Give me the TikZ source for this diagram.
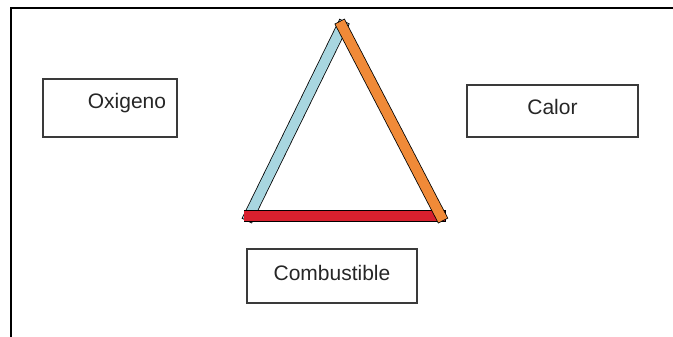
\documentclass[tikz,border=0pt]{standalone}
\usepackage{fontspec}
\setmainfont{Liberation Sans}
\usepackage{tikz}
\usetikzlibrary{calc}

\definecolor{ladoazul}{HTML}{A8D6E0}
\definecolor{ladorojo}{HTML}{D8202E}
\definecolor{ladonaranja}{HTML}{F08A38}
\definecolor{bordecaja}{HTML}{3A3A3A}

\begin{document}
\begin{tikzpicture}[x=1pt, y=-1pt]

\tikzset{
    caja/.style={draw=bordecaja, line width=1.6pt, inner sep=0pt,
        font=\fontsize{21}{25}\selectfont, text=black!85},
    contorno/.style={draw=black, line width=11.4pt, line cap=rect},
    lado/.style={line width=9.8pt, line cap=rect}
}

% Lado del triangulo: contorno negro y relleno de color
% Uso: \ladotri{desde}{hasta}{color}
\newcommand{\ladotri}[3]{
    \draw[contorno] (#1) -- (#2);
    \draw[lado, draw=#3] (#1) -- (#2);
}

\useasboundingbox (0,0) rectangle (673,337);

% --- Marco (solo arriba e izquierda) ---
\coordinate (esq) at (11,8);
\draw[line width=2pt] (673,8) -- (esq) -- (11,337);

% --- Triangulo del fuego ---
\coordinate (I) at (343.6,156.4);
\def\esc{0.92}
\coordinate (A) at ($(I)!\esc!(342,15)$);
\coordinate (B) at ($(I)!\esc!(241,221)$);
\coordinate (C) at ($(I)!\esc!(449,221)$);

\ladotri{B}{A}{ladoazul}
\ladotri{B}{C}{ladorojo}
\ladotri{A}{C}{ladonaranja}

% --- Cajas ---
\node[caja, minimum width=134pt, text height=30pt, text depth=28pt]
    (oxigeno) at (110,78) [anchor=north] {\hspace*{34pt}Oxigeno};
\node[caja, minimum width=171pt, text height=30pt, text depth=22pt]
    (calor) at (552.5,84) [anchor=north] {Calor};
\node[caja, minimum width=170pt, text height=32pt, text depth=22pt]
    (combustible) at (332,248) [anchor=north] {Combustible};

\end{tikzpicture}
\end{document}
